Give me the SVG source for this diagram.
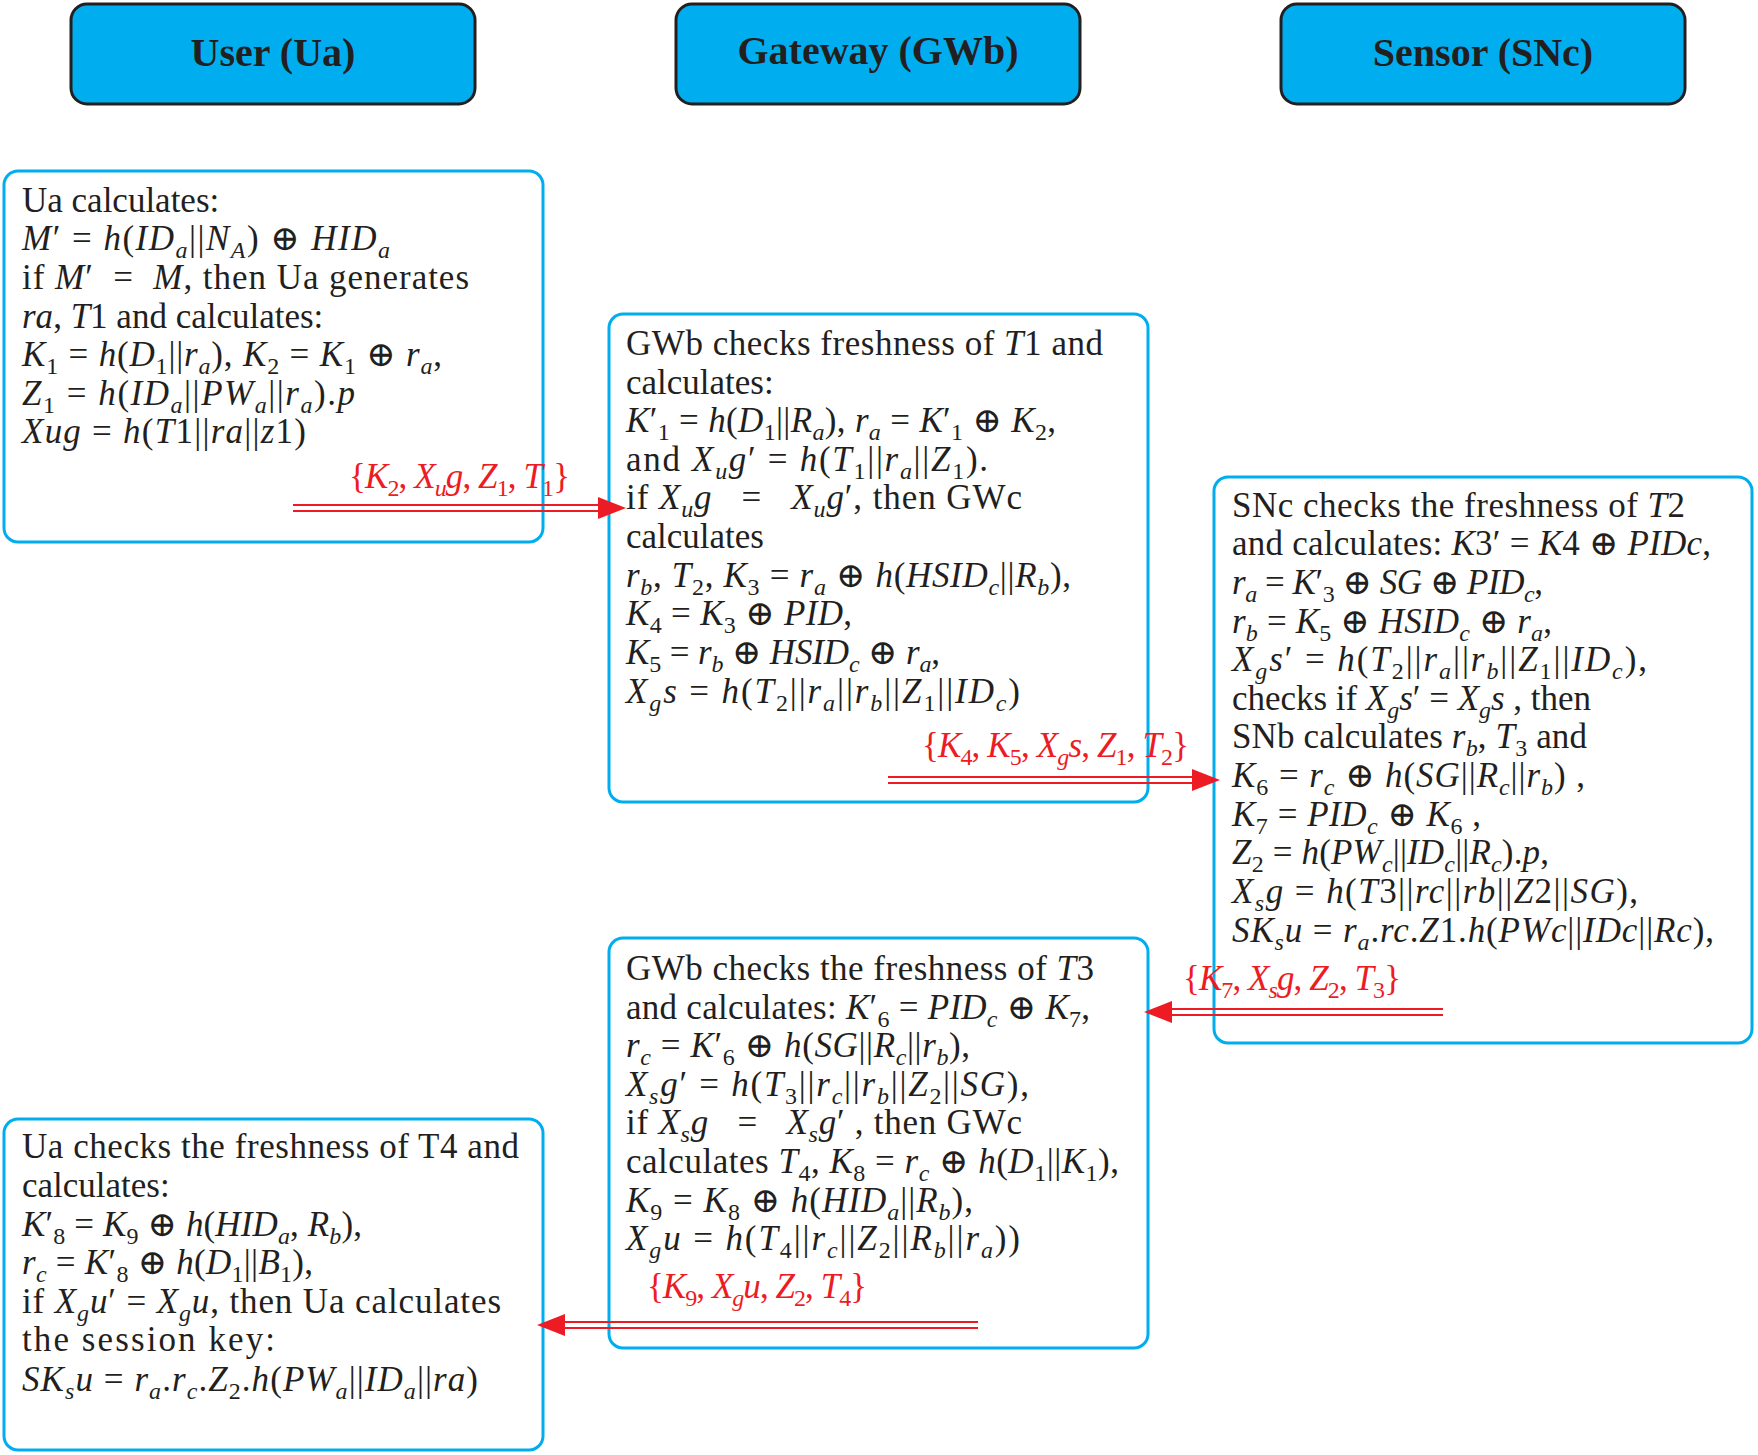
<svg xmlns="http://www.w3.org/2000/svg" width="1758" height="1455" viewBox="0 0 1758 1455">
<style>
.hd rect{fill:#00AEEF;stroke:#231F20;stroke-width:3}
.hd text{font-family:"Liberation Serif","DejaVu Serif",serif;font-weight:bold;font-size:40px;text-anchor:middle;fill:#231F20}
.bx rect{fill:none;stroke:#00AEEF;stroke-width:3}
.t{font-family:"Liberation Serif","DejaVu Serif",serif;font-size:35px;fill:#231F20}
.r{fill:#ED1C24}
.i{font-style:italic}
.s{font-size:24px;baseline-shift:-8px}
.cn line{stroke:#ED1C24;stroke-width:2}
.cn polygon{fill:#ED1C24}
</style>
<rect width="1758" height="1455" fill="#fff"/>

<g id="hdr-user" class="hd"><rect x="71" y="4" width="404" height="100" rx="16"/><text x="273" y="66">User (Ua)</text></g>
<g id="hdr-gateway" class="hd"><rect x="676" y="4" width="404" height="100" rx="16"/><text x="878" y="64">Gateway (GWb)</text></g>
<g id="hdr-sensor" class="hd"><rect x="1281" y="4" width="404" height="100" rx="16"/><text x="1483" y="66">Sensor (SNc)</text></g>

<g id="box-ua1" class="bx">
<rect x="4" y="171" width="539" height="371" rx="14"/>
<text class="t" x="22" y="212">Ua calculates:</text>
<text class="t" x="22" y="250" textLength="368"><tspan class="i">M</tspan>′ = <tspan class="i">h</tspan>(<tspan class="i">ID</tspan><tspan class="s i">a</tspan>||<tspan class="i">N</tspan><tspan class="s i">A</tspan>) ⊕ <tspan class="i">HID</tspan><tspan class="s i">a</tspan></text>
<text class="t" x="22" y="289" textLength="447" xml:space="preserve">if <tspan class="i">M</tspan>′  =  <tspan class="i">M</tspan>, then Ua generates</text>
<text class="t" x="22" y="328"><tspan class="i">ra</tspan>, <tspan class="i">T</tspan>1 and calculates:</text>
<text class="t" x="22" y="366" textLength="420"><tspan class="i">K</tspan><tspan class="s">1</tspan> = <tspan class="i">h</tspan>(<tspan class="i">D</tspan><tspan class="s">1</tspan>||<tspan class="i">r</tspan><tspan class="s i">a</tspan>), <tspan class="i">K</tspan><tspan class="s">2</tspan> = <tspan class="i">K</tspan><tspan class="s">1</tspan> ⊕ <tspan class="i">r</tspan><tspan class="s i">a</tspan>,</text>
<text class="t" x="22" y="405" textLength="333"><tspan class="i">Z</tspan><tspan class="s">1</tspan> = <tspan class="i">h</tspan>(<tspan class="i">ID</tspan><tspan class="s i">a</tspan>||<tspan class="i">PW</tspan><tspan class="s i">a</tspan>||<tspan class="i">r</tspan><tspan class="s i">a</tspan>).<tspan class="i">p</tspan></text>
<text class="t" x="22" y="443" textLength="284"><tspan class="i">Xug</tspan> = <tspan class="i">h</tspan>(<tspan class="i">T</tspan>1||<tspan class="i">ra</tspan>||<tspan class="i">z</tspan>1)</text>
</g>

<g id="box-gw1" class="bx">
<rect x="609" y="314" width="539" height="488" rx="14"/>
<text class="t" x="626" y="355" textLength="477">GWb checks freshness of <tspan class="i">T</tspan>1 and</text>
<text class="t" x="626" y="394">calculates:</text>
<text class="t" x="626" y="432" textLength="430"><tspan class="i">K</tspan>′<tspan class="s">1</tspan> = <tspan class="i">h</tspan>(<tspan class="i">D</tspan><tspan class="s">1</tspan>||<tspan class="i">R</tspan><tspan class="s i">a</tspan>), <tspan class="i">r</tspan><tspan class="s i">a</tspan> = <tspan class="i">K</tspan>′<tspan class="s">1</tspan> ⊕ <tspan class="i">K</tspan><tspan class="s">2</tspan>,</text>
<text class="t" x="626" y="471" textLength="362">and <tspan class="i">X</tspan><tspan class="s i">u</tspan><tspan class="i">g</tspan>′ = <tspan class="i">h</tspan>(<tspan class="i">T</tspan><tspan class="s">1</tspan>||<tspan class="i">r</tspan><tspan class="s i">a</tspan>||<tspan class="i">Z</tspan><tspan class="s">1</tspan>).</text>
<text class="t" x="626" y="509" textLength="396" xml:space="preserve">if <tspan class="i">X</tspan><tspan class="s i">u</tspan><tspan class="i">g</tspan>   =   <tspan class="i">X</tspan><tspan class="s i">u</tspan><tspan class="i">g</tspan>′, then GWc</text>
<text class="t" x="626" y="548">calculates</text>
<text class="t" x="626" y="587" textLength="445"><tspan class="i">r</tspan><tspan class="s i">b</tspan>, <tspan class="i">T</tspan><tspan class="s">2</tspan>, <tspan class="i">K</tspan><tspan class="s">3</tspan> = <tspan class="i">r</tspan><tspan class="s i">a</tspan> ⊕ <tspan class="i">h</tspan>(<tspan class="i">HSID</tspan><tspan class="s i">c</tspan>||<tspan class="i">R</tspan><tspan class="s i">b</tspan>),</text>
<text class="t" x="626" y="625" textLength="226"><tspan class="i">K</tspan><tspan class="s">4</tspan> = <tspan class="i">K</tspan><tspan class="s">3</tspan> ⊕ <tspan class="i">PID</tspan>,</text>
<text class="t" x="626" y="664" textLength="314"><tspan class="i">K</tspan><tspan class="s">5</tspan> = <tspan class="i">r</tspan><tspan class="s i">b</tspan> ⊕ <tspan class="i">HSID</tspan><tspan class="s i">c</tspan> ⊕ <tspan class="i">r</tspan><tspan class="s i">a</tspan>,</text>
<text class="t" x="626" y="703" textLength="394"><tspan class="i">X</tspan><tspan class="s i">g</tspan><tspan class="i">s</tspan> = <tspan class="i">h</tspan>(<tspan class="i">T</tspan><tspan class="s">2</tspan>||<tspan class="i">r</tspan><tspan class="s i">a</tspan>||<tspan class="i">r</tspan><tspan class="s i">b</tspan>||<tspan class="i">Z</tspan><tspan class="s">1</tspan>||<tspan class="i">ID</tspan><tspan class="s i">c</tspan>)</text>
</g>

<g id="box-sn" class="bx">
<rect x="1214" y="477" width="538" height="566" rx="14"/>
<text class="t" x="1232" y="517" textLength="453">SNc checks the freshness of <tspan class="i">T</tspan>2</text>
<text class="t" x="1232" y="555" textLength="479">and calculates: <tspan class="i">K</tspan>3′ = <tspan class="i">K</tspan>4 ⊕ <tspan class="i">PIDc</tspan>,</text>
<text class="t" x="1232" y="594" textLength="311"><tspan class="i">r</tspan><tspan class="s i">a</tspan> = <tspan class="i">K</tspan>′<tspan class="s">3</tspan> ⊕ <tspan class="i">SG</tspan> ⊕ <tspan class="i">PID</tspan><tspan class="s i">c</tspan>,</text>
<text class="t" x="1232" y="633" textLength="320"><tspan class="i">r</tspan><tspan class="s i">b</tspan> = <tspan class="i">K</tspan><tspan class="s">5</tspan> ⊕ <tspan class="i">HSID</tspan><tspan class="s i">c</tspan> ⊕ <tspan class="i">r</tspan><tspan class="s i">a</tspan>,</text>
<text class="t" x="1232" y="671" textLength="415"><tspan class="i">X</tspan><tspan class="s i">g</tspan><tspan class="i">s</tspan>′ = <tspan class="i">h</tspan>(<tspan class="i">T</tspan><tspan class="s">2</tspan>||<tspan class="i">r</tspan><tspan class="s i">a</tspan>||<tspan class="i">r</tspan><tspan class="s i">b</tspan>||<tspan class="i">Z</tspan><tspan class="s">1</tspan>||<tspan class="i">ID</tspan><tspan class="s i">c</tspan>),</text>
<text class="t" x="1232" y="710" textLength="359">checks if <tspan class="i">X</tspan><tspan class="s i">g</tspan><tspan class="i">s</tspan>′ = <tspan class="i">X</tspan><tspan class="s i">g</tspan><tspan class="i">s</tspan> , then</text>
<text class="t" x="1232" y="748" textLength="355">SNb calculates <tspan class="i">r</tspan><tspan class="s i">b</tspan>, <tspan class="i">T</tspan><tspan class="s">3</tspan> and</text>
<text class="t" x="1232" y="787" textLength="353"><tspan class="i">K</tspan><tspan class="s">6</tspan> = <tspan class="i">r</tspan><tspan class="s i">c</tspan> ⊕ <tspan class="i">h</tspan>(<tspan class="i">SG</tspan>||<tspan class="i">R</tspan><tspan class="s i">c</tspan>||<tspan class="i">r</tspan><tspan class="s i">b</tspan>) ,</text>
<text class="t" x="1232" y="826" textLength="249"><tspan class="i">K</tspan><tspan class="s">7</tspan> = <tspan class="i">PID</tspan><tspan class="s i">c</tspan> ⊕ <tspan class="i">K</tspan><tspan class="s">6</tspan> ,</text>
<text class="t" x="1232" y="864" textLength="317"><tspan class="i">Z</tspan><tspan class="s">2</tspan> = <tspan class="i">h</tspan>(<tspan class="i">PW</tspan><tspan class="s i">c</tspan>||<tspan class="i">ID</tspan><tspan class="s i">c</tspan>||<tspan class="i">R</tspan><tspan class="s i">c</tspan>).<tspan class="i">p</tspan>,</text>
<text class="t" x="1232" y="903" textLength="406"><tspan class="i">X</tspan><tspan class="s i">s</tspan><tspan class="i">g</tspan> = <tspan class="i">h</tspan>(<tspan class="i">T</tspan>3||<tspan class="i">rc</tspan>||<tspan class="i">rb</tspan>||<tspan class="i">Z</tspan>2||<tspan class="i">SG</tspan>),</text>
<text class="t" x="1232" y="942" textLength="482"><tspan class="i">SK</tspan><tspan class="s i">s</tspan><tspan class="i">u</tspan> = <tspan class="i">r</tspan><tspan class="s i">a</tspan>.<tspan class="i">rc</tspan>.<tspan class="i">Z</tspan>1.<tspan class="i">h</tspan>(<tspan class="i">PWc</tspan>||<tspan class="i">IDc</tspan>||<tspan class="i">Rc</tspan>),</text>
</g>

<g id="box-gw2" class="bx">
<rect x="609" y="938" width="539" height="410" rx="14"/>
<text class="t" x="626" y="980" textLength="468">GWb checks the freshness of <tspan class="i">T</tspan>3</text>
<text class="t" x="626" y="1019" textLength="464">and calculates: <tspan class="i">K</tspan>′<tspan class="s">6</tspan> = <tspan class="i">PID</tspan><tspan class="s i">c</tspan> ⊕ <tspan class="i">K</tspan><tspan class="s">7</tspan>,</text>
<text class="t" x="626" y="1057" textLength="344"><tspan class="i">r</tspan><tspan class="s i">c</tspan> = <tspan class="i">K</tspan>′<tspan class="s">6</tspan> ⊕ <tspan class="i">h</tspan>(<tspan class="i">SG</tspan>||<tspan class="i">R</tspan><tspan class="s i">c</tspan>||<tspan class="i">r</tspan><tspan class="s i">b</tspan>),</text>
<text class="t" x="626" y="1096" textLength="403"><tspan class="i">X</tspan><tspan class="s i">s</tspan><tspan class="i">g</tspan>′ = <tspan class="i">h</tspan>(<tspan class="i">T</tspan><tspan class="s">3</tspan>||<tspan class="i">r</tspan><tspan class="s i">c</tspan>||<tspan class="i">r</tspan><tspan class="s i">b</tspan>||<tspan class="i">Z</tspan><tspan class="s">2</tspan>||<tspan class="i">SG</tspan>),</text>
<text class="t" x="626" y="1134" textLength="396" xml:space="preserve">if <tspan class="i">X</tspan><tspan class="s i">s</tspan><tspan class="i">g</tspan>   =   <tspan class="i">X</tspan><tspan class="s i">s</tspan><tspan class="i">g</tspan>′ , then GWc</text>
<text class="t" x="626" y="1173" textLength="493">calculates <tspan class="i">T</tspan><tspan class="s">4</tspan>, <tspan class="i">K</tspan><tspan class="s">8</tspan> = <tspan class="i">r</tspan><tspan class="s i">c</tspan> ⊕ <tspan class="i">h</tspan>(<tspan class="i">D</tspan><tspan class="s">1</tspan>||<tspan class="i">K</tspan><tspan class="s">1</tspan>),</text>
<text class="t" x="626" y="1212" textLength="347"><tspan class="i">K</tspan><tspan class="s">9</tspan> = <tspan class="i">K</tspan><tspan class="s">8</tspan> ⊕ <tspan class="i">h</tspan>(<tspan class="i">HID</tspan><tspan class="s i">a</tspan>||<tspan class="i">R</tspan><tspan class="s i">b</tspan>),</text>
<text class="t" x="626" y="1250" textLength="394"><tspan class="i">X</tspan><tspan class="s i">g</tspan><tspan class="i">u</tspan> = <tspan class="i">h</tspan>(<tspan class="i">T</tspan><tspan class="s">4</tspan>||<tspan class="i">r</tspan><tspan class="s i">c</tspan>||<tspan class="i">Z</tspan><tspan class="s">2</tspan>||<tspan class="i">R</tspan><tspan class="s i">b</tspan>||<tspan class="i">r</tspan><tspan class="s i">a</tspan>))</text>
</g>

<g id="box-ua2" class="bx">
<rect x="4" y="1119" width="539" height="331" rx="14"/>
<text class="t" x="22" y="1158" textLength="497">Ua checks the freshness of T4 and</text>
<text class="t" x="22" y="1197">calculates:</text>
<text class="t" x="22" y="1236" textLength="340"><tspan class="i">K</tspan>′<tspan class="s">8</tspan> = <tspan class="i">K</tspan><tspan class="s">9</tspan> ⊕ <tspan class="i">h</tspan>(<tspan class="i">HID</tspan><tspan class="s i">a</tspan>, <tspan class="i">R</tspan><tspan class="s i">b</tspan>),</text>
<text class="t" x="22" y="1274" textLength="291"><tspan class="i">r</tspan><tspan class="s i">c</tspan> = <tspan class="i">K</tspan>′<tspan class="s">8</tspan> ⊕ <tspan class="i">h</tspan>(<tspan class="i">D</tspan><tspan class="s">1</tspan>||<tspan class="i">B</tspan><tspan class="s">1</tspan>),</text>
<text class="t" x="22" y="1313" textLength="479">if <tspan class="i">X</tspan><tspan class="s i">g</tspan><tspan class="i">u</tspan>′ = <tspan class="i">X</tspan><tspan class="s i">g</tspan><tspan class="i">u</tspan>, then Ua calculates</text>
<text class="t" x="22" y="1351" textLength="253">the session key:</text>
<text class="t" x="22" y="1391" textLength="456"><tspan class="i">SK</tspan><tspan class="s i">s</tspan><tspan class="i">u</tspan> = <tspan class="i">r</tspan><tspan class="s i">a</tspan>.<tspan class="i">r</tspan><tspan class="s i">c</tspan>.<tspan class="i">Z</tspan><tspan class="s">2</tspan>.<tspan class="i">h</tspan>(<tspan class="i">PW</tspan><tspan class="s i">a</tspan>||<tspan class="i">ID</tspan><tspan class="s i">a</tspan>||<tspan class="i">ra</tspan>)</text>
</g>

<g id="connectors" class="cn">
<line x1="293" y1="505" x2="600" y2="505"/><line x1="293" y1="511" x2="600" y2="511"/>
<polygon points="626,508 598,497 598,519"/>
<text class="t r" x="349" y="488" textLength="221">{<tspan class="i">K</tspan><tspan class="s">2</tspan>, <tspan class="i">X</tspan><tspan class="s i">u</tspan><tspan class="i">g</tspan>, <tspan class="i">Z</tspan><tspan class="s">1</tspan>, <tspan class="i">T</tspan><tspan class="s">1</tspan>}</text>
<line x1="888" y1="777" x2="1194" y2="777"/><line x1="888" y1="783" x2="1194" y2="783"/>
<polygon points="1220,780 1192,769 1192,791"/>
<text class="t r" x="922" y="757" textLength="267">{<tspan class="i">K</tspan><tspan class="s">4</tspan>, <tspan class="i">K</tspan><tspan class="s">5</tspan>, <tspan class="i">X</tspan><tspan class="s i">g</tspan><tspan class="i">s</tspan>, <tspan class="i">Z</tspan><tspan class="s">1</tspan>, <tspan class="i">T</tspan><tspan class="s">2</tspan>}</text>
<line x1="1443" y1="1009" x2="1170" y2="1009"/><line x1="1443" y1="1015" x2="1170" y2="1015"/>
<polygon points="1144,1012 1172,1001 1172,1023"/>
<text class="t r" x="1183" y="990" textLength="218">{<tspan class="i">K</tspan><tspan class="s">7</tspan>, <tspan class="i">X</tspan><tspan class="s i">s</tspan><tspan class="i">g</tspan>, <tspan class="i">Z</tspan><tspan class="s">2</tspan>, <tspan class="i">T</tspan><tspan class="s">3</tspan>}</text>
<line x1="978" y1="1322" x2="563" y2="1322"/><line x1="978" y1="1328" x2="563" y2="1328"/>
<polygon points="537,1325 565,1314 565,1336"/>
<text class="t r" x="647" y="1298" textLength="220">{<tspan class="i">K</tspan><tspan class="s">9</tspan>, <tspan class="i">X</tspan><tspan class="s i">g</tspan><tspan class="i">u</tspan>, <tspan class="i">Z</tspan><tspan class="s">2</tspan>, <tspan class="i">T</tspan><tspan class="s">4</tspan>}</text>
</g>
</svg>
